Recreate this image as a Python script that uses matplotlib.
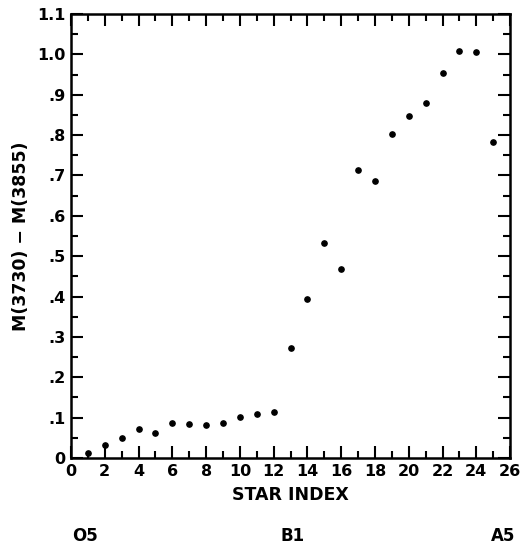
import matplotlib
matplotlib.use("Agg")
import matplotlib.pyplot as plt
import matplotlib.transforms as mtransforms
from matplotlib.ticker import MultipleLocator, FixedLocator

#Data
star_index = [1, 2, 3, 4, 5, 6, 7, 8, 9, 10, 11, 12, 13,
              14, 15, 16, 17, 18, 19, 20, 21, 22, 23, 24, 25]
color_index = [0.012, 0.031, 0.050, 0.073, 0.061, 0.086, 0.085, 0.082, 0.086,
               0.101, 0.108, 0.115, 0.273, 0.394, 0.533, 0.468, 0.713, 0.686,
               0.803, 0.847, 0.880, 0.954, 1.008, 1.005, 0.783]

xticks = list(range(0, 27, 2))
yticks = [0.0, 0.1, 0.2, 0.3, 0.4, 0.5, 0.6, 0.7, 0.8, 0.9, 1.0, 1.1]
ytick_labels = ["0", ".1", ".2", ".3", ".4", ".5", ".6", ".7", ".8", ".9", "1.0", "1.1"]

spec_pos = [0.8, 13.1, 25.6]
spec_labels = ["O5", "B1", "A5"]

plt.rcParams['font.family'] = ['DejaVu Sans']
plt.rcParams['font.weight'] = 'bold'

fig = plt.figure(figsize=(5.28, 5.47), dpi=100)
ax = fig.add_axes([0.1345, 0.1627, 0.8315, 0.8117])

ax.plot(star_index, color_index, 'o', color='black', markersize=3.8, linestyle='none')

ax.set_xlim(0, 26)
ax.set_ylim(0, 1.1)

#Ticks
ax.xaxis.set_major_locator(FixedLocator(xticks))
ax.xaxis.set_minor_locator(MultipleLocator(1))
ax.yaxis.set_major_locator(FixedLocator(yticks))
ax.yaxis.set_minor_locator(MultipleLocator(0.05))
ax.set_yticklabels(ytick_labels)
ax.tick_params(which='both', direction='in', top=True, right=True, width=1.5,
               labelsize=11.5, colors='black')
ax.tick_params(which='major', length=8.5, pad=4)
ax.tick_params(which='minor', length=5)
for s in ax.spines.values():
    s.set_linewidth(1.8)

ax.set_xlabel("STAR INDEX", fontsize=12.5, fontweight='bold', labelpad=5)
ax.set_ylabel("M(3730) \u2212 M(3855)", fontsize=12.5, fontweight='bold', labelpad=5)

#Spectral types under the axis
trans = mtransforms.blended_transform_factory(ax.transData, fig.transFigure)
for pos, lab in zip(spec_pos, spec_labels):
    ax.text(pos, 0.02, lab, transform=trans, ha='center', va='center',
            fontsize=12, fontweight='bold')

plt.savefig("out.png", dpi=100)
plt.close()
